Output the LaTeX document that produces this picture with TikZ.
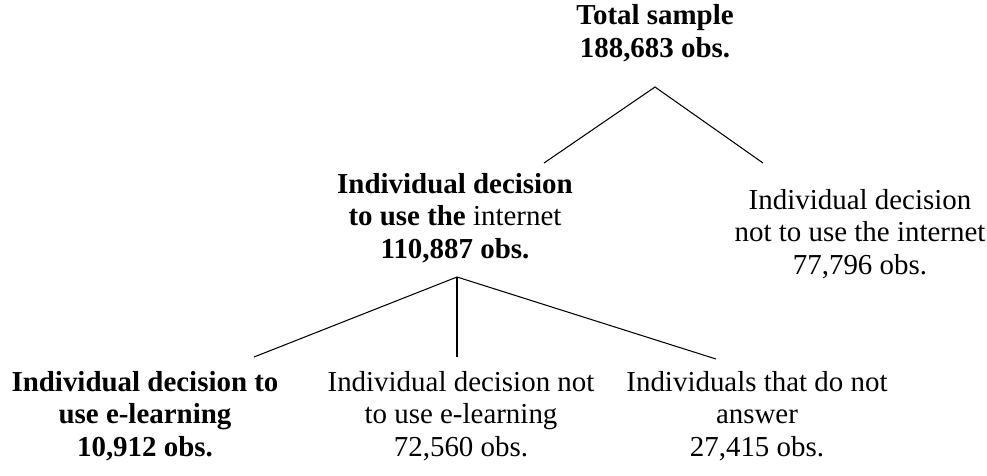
\documentclass[tikz,border=0pt]{standalone}
\usepackage{fontspec}
\setmainfont{Liberation Serif}
\usetikzlibrary{positioning}
\tikzset{
  leaf/.style={align=center, inner sep=0pt, font=\fontsize{12.4}{14}\selectfont},
  boldleaf/.style={leaf, font=\fontsize{12.4}{14}\selectfont\bfseries},
  branch/.style={line width=0.45pt, black},
}

\begin{document}
\begin{tikzpicture}[x=0.4286pt, y=-0.4286pt]
  \useasboundingbox (0,0) rectangle (987,475);

  % top level
  \node[boldleaf] (total) at (655,33) {Total sample\\188,683 obs.};
  \node[leaf] (useint) at (455,218)
    {\textbf{Individual decision}\\\textbf{to use the} internet\\\textbf{110,887 obs.}};
  \node[leaf] (nouseint) at (860,234)
    {Individual decision\\not to use the internet\\77,796 obs.};

  % second level
  \node[boldleaf] (uselearn) at (145,416)
    {Individual decision to\\use e-learning\\10,912 obs.};
  \node[leaf] (nouselearn) at (461,416)
    {Individual decision not\\to use e-learning\\72,560 obs.};
  \node[leaf] (noanswer) at (757,416)
    {Individuals that do not\\answer\\27,415 obs.};

  % fork points
  \coordinate (topfork) at (655,87);
  \coordinate (topl) at (544,163);
  \coordinate (topr) at (763,163);
  \coordinate (midfork) at (457,277);
  \coordinate (midl) at (254,357);
  \coordinate (midc) at (457,357);
  \coordinate (midr) at (716,359);

  \draw[branch] (topl) -- (topfork) -- (topr);
  \draw[branch] (midl) -- (midfork) -- (midr);
  \draw[branch] (midfork) -- (midc);
\end{tikzpicture}
\end{document}
